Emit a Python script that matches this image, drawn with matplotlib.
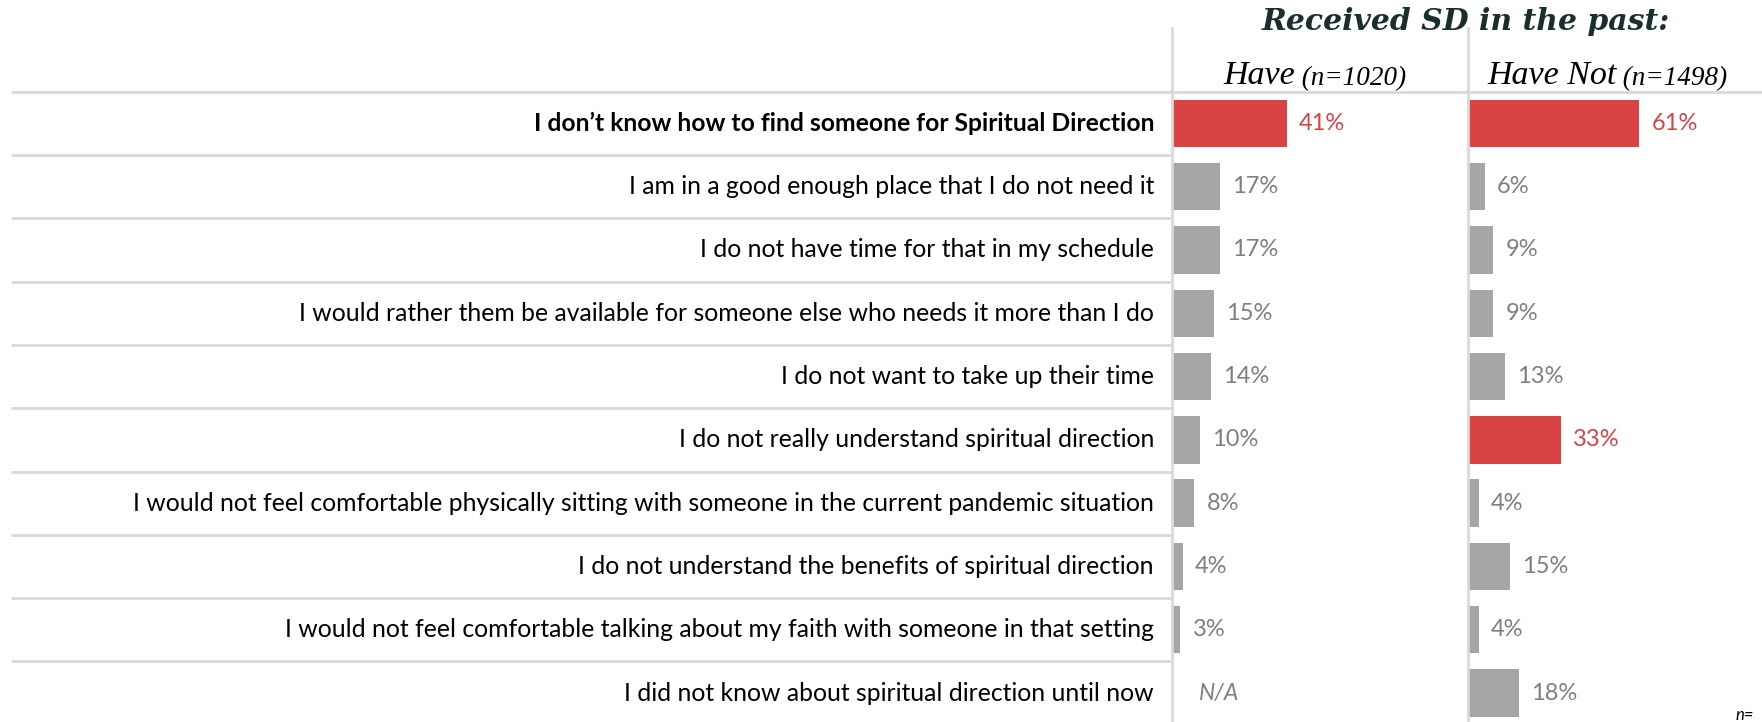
# Reasons for not seeking spiritual direction, split by past SD experience

import matplotlib.pyplot as plt

reasons = [
    "I don\u2019t know how to find someone for Spiritual Direction",
    "I am in a good enough place that I do not need it",
    "I do not have time for that in my schedule",
    "I would rather them be available for someone else who needs it more than I do",
    "I do not want to take up their time",
    "I do not really understand spiritual direction",
    "I would not feel comfortable physically sitting with someone in the current pandemic situation",
    "I do not understand the benefits of spiritual direction",
    "I would not feel comfortable talking about my faith with someone in that setting",
    "I did not know about spiritual direction until now",
]
have = [41, 17, 17, 15, 14, 10, 8, 4, 3, None]
have_not = [61, 6, 9, 9, 13, 33, 4, 15, 4, 18]
have_hi = [0]
have_not_hi = [0, 5]

title = "Received SD in the past:"
col_names = ["Have", "Have Not"]
col_n = ["(n=1020)", "(n=1498)"]

RED = "#d94343"
GREY = "#a6a6a6"
TXT_GREY = "#7f7f7f"
LINE = "#d9d9d9"

W, H = 1762, 722
SCALE = 2.81          # pixels per percent
PITCH = 63.3          # pixels per row
TOP = 91.7            # header line, px from top
LABEL_FONT = "Lato"
SERIF = "DejaVu Serif"

fig = plt.figure(figsize=(W / 100, H / 100), dpi=100)
fig.patch.set_facecolor("white")

def make_ax(left_px, width_px):
    ax = fig.add_axes([left_px / W, 1 - (TOP + PITCH * len(reasons)) / H,
                       width_px / W, PITCH * len(reasons) / H])
    ax.set_xlim(0, width_px / SCALE)
    ax.set_ylim(len(reasons) - 0.5, -0.5)
    ax.axis("off")
    return ax

ax1 = make_ax(1172, 296)
ax2 = make_ax(1468, 294)

def draw_col(ax, vals, hi):
    for i, v in enumerate(vals):
        if v is None:
            ax.text(27 / SCALE, i, "N/A", color=TXT_GREY, fontsize=16.5,
                    style="italic", family=LABEL_FONT, va="center", ha="left")
            continue
        c = RED if i in hi else GREY
        tc = RED if i in hi else TXT_GREY
        ax.barh(i, v, height=0.75, color=c, left=0)
        ax.text(v + 12 / SCALE, i, f"{v}%", color=tc, fontsize=17,
                family=LABEL_FONT, va="center", ha="left")
    # vertical axis line, extended up into the header
    ax.plot([0, 0], [-1.5, len(vals) - 0.5], color=LINE, lw=2, clip_on=False)

draw_col(ax1, have, have_hi)
draw_col(ax2, have_not, have_not_hi)

# row labels and separators
for i, r in enumerate(reasons):
    ax1.text(-18 / SCALE, i, r, ha="right", va="center", fontsize=17.8,
             family=LABEL_FONT, color="black",
             fontweight="bold" if i == 0 else "normal", clip_on=False)
ax1.hlines([i + 0.5 for i in range(len(reasons) - 1)], -(1172 - 11) / SCALE, 0,
           color=LINE, lw=2, clip_on=False)
ax1.hlines(-0.5, -(1172 - 11) / SCALE, (W - 1172) / SCALE, color=LINE, lw=2,
           clip_on=False)

# header
fig.text(1466 / W, 1 - 22 / H, title, ha="center", va="center", fontsize=21.5,
         family=SERIF, style="italic", fontweight="bold", color="#1b2e2e")
for x0, name, n in zip([1223, 1487], col_names, col_n):
    t = fig.text(x0 / W, 1 - 84 / H, name, ha="left", va="baseline",
                 fontsize=24.5, family="Liberation Serif", style="italic")
    ax1.annotate(" " + n, xy=(1, 0), xycoords=t, va="bottom", ha="left",
                 fontsize=19.5, family="Liberation Serif", style="italic",
                 annotation_clip=False)

# footnote at the bottom-right edge
fig.text(1736 / W, 1 - 720 / H, "n=", fontsize=12, style="italic",
         family=LABEL_FONT, va="baseline", ha="left")

fig.savefig("out.png", dpi=100, facecolor="white")
